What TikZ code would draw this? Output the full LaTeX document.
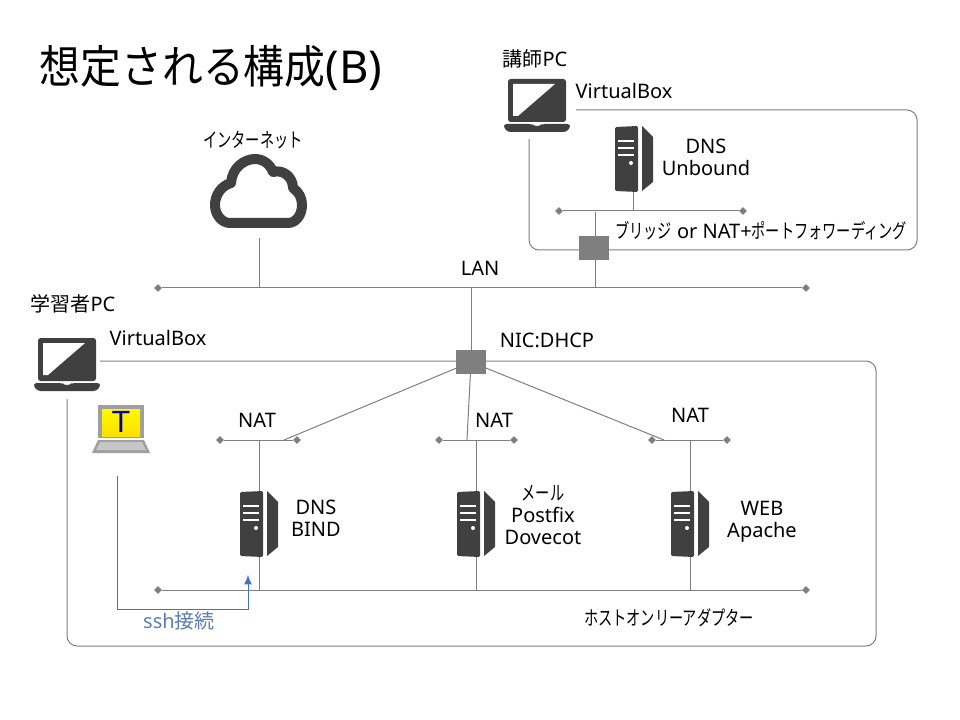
\documentclass[tikz,border=0pt]{standalone}
\usepackage{fontspec}
\setmainfont{Noto Sans}
\newfontfamily\cjk{Noto Sans CJK JP}
\newfontfamily\arialfont{Liberation Sans}
\usetikzlibrary{arrows.meta, shapes.geometric, backgrounds}
\definecolor{netgray}{HTML}{7F7F7F}
\definecolor{icondark}{HTML}{404040}
\definecolor{sshblue}{HTML}{4472C4}
\definecolor{sshtext}{HTML}{5B7DB1}
\newcommand{\jp}[1]{\scalebox{0.71}[1]{\cjk #1}}
\tikzset{
  netline/.style={draw=netgray, line width=0.75pt},
  busend/.style={diamond, fill=netgray, inner sep=0pt, minimum size=6pt},
  switchbox/.style={rectangle, fill=netgray, inner sep=0pt, minimum width=22pt, minimum height=18pt},
  lbl/.style={inner sep=0pt, align=center, font=\fontsize{15}{16.5}\selectfont, text=black},
}
\begin{document}
\begin{tikzpicture}[x=0.75pt, y=-0.75pt]
  \useasboundingbox (0,0) rectangle (960,720);
  % bus ends
  \foreach \name/\x/\y in {lanL/158/288, lanR/806/288, brL/559/211, brR/743/211,
    hostL/158/590, hostR/806/590, natAL/220/440, natAR/297/440,
    natBL/439/440, natBR/514/440, natCL/652/440, natCR/727/440} {
    \node[busend] (\name) at (\x,\y) {};
  }
  \node[switchbox] (swUp) at (594,248) {};
  \node[switchbox] (swLow) at (471,362) {};
  % free ends of the connectors
  \foreach \name/\x/\y in {cloudEnd/259/238, cloudBus/259/288, lowUp/471/288,
    upBr/595/212, upLan/595/288, unbEnd/633/190, unbBus/633/211,
    frmA/576/110, frmB/917/110, frmC/917/250, frmD/529/250, frmE/529/139,
    frmF/100/361, frmG/876/361, frmH/876/646, frmI/67/646, frmJ/67/399,
    natAT/284/440, natBT/467/440, natCT/664/440,
    srvAT/259/440, srvAB/259/590, srvBT/476/440, srvBB/476/590,
    srvCT/690/440, srvCB/690/590,
    sshA/117/476, sshB/117/609, sshC/248/609, sshD/248/575} {
    \coordinate (\name) at (\x,\y);
  }
  \begin{scope}[on background layer]
    \draw[netline] (lanL) -- (lanR);
    \draw[netline] (brL) -- (brR);
    \draw[netline] (hostL) -- (hostR);
    \draw[netline] (natAL) -- (natAR);
    \draw[netline] (natBL) -- (natBR);
    \draw[netline] (natCL) -- (natCR);
    \draw[netline] (cloudEnd) -- (cloudBus);
    \draw[netline] (lowUp) -- (swLow);
    \draw[netline] (upBr) -- (upLan);
    \draw[netline] (unbEnd) -- (unbBus);
    \draw[netline, rounded corners=7.5pt] (frmA) -- (frmB) -- (frmC) -- (frmD) -- (frmE);
    \draw[netline, rounded corners=7.5pt] (frmF) -- (frmG) -- (frmH) -- (frmI) -- (frmJ);
    \draw[netline] (swLow.center) -- (natAT);
    \draw[netline] (swLow.center) -- (natBT);
    \draw[netline] (swLow.center) -- (natCT);
    \draw[netline] (srvAT) -- (srvAB);
    \draw[netline] (srvBT) -- (srvBB);
    \draw[netline] (srvCT) -- (srvCB);
  \end{scope}
  % servers
  \foreach \x/\y in {240/492, 457/492, 671/492, 615/127} {
    \begin{scope}[shift={(\x,\y)}]
      \fill[icondark, rounded corners=1pt] (0,0) -- (23,-1) -- (23,65) -- (0,64) -- cycle;
      \fill[icondark] (27,-1) -- (38,10) -- (38,55) -- (27,64) -- cycle;
      \foreach \s in {14,21,28} {
        \draw[white, line width=1.2pt] (3,\s) -- (19,\s);
      }
      \fill[white] (16,36) circle (1.5pt);
    \end{scope}
  }
  % laptops
  \foreach \x/\y in {0/0, 470/-259} {
    \begin{scope}[shift={(\x,\y)}]
      \fill[icondark, rounded corners=2pt] (38,338) rectangle (96,381);
      \fill[white] (43,343) -- (85,343) -- (48,375) -- (43,375) -- cycle;
      \fill[icondark, rounded corners=2pt] (34,383) -- (62,383) -- (64,385) -- (70,385)
        -- (72,383) -- (100,383) -- (100,387) -- (96,391) -- (38,391) -- (34,387) -- cycle;
    \end{scope}
  }
  % terminal icon
  \fill[gray!75] (98,405) rectangle (144,438);
  \shade[top color=yellow!95!orange, bottom color=yellow!75!orange] (102,409) rectangle (140,436);
  \fill[gray!75] (98,440) -- (144,440) -- (150,453) -- (92,453) -- cycle;
  \fill[gray!45] (100,442) -- (142,442) -- (146,450) -- (96,450) -- cycle;
  \node[inner sep=0pt, text=blue!70!black, font=\arialfont\fontsize{23}{23}\selectfont] (termT) at (121,422) {T};
  % cloud
  \draw[icondark, line width=7.5pt, line join=round]
    (230,223) .. controls (222,223) and (215,215) .. (215,205)
    .. controls (215,195) and (221,186) .. (231,183)
    .. controls (232,168) and (244,159) .. (255,159)
    .. controls (263,159) and (270,164) .. (273,172)
    .. controls (283,169) and (293,177) .. (293,188)
    .. controls (299,192) and (302,198) .. (302,205)
    .. controls (302,215) and (296,223) .. (288,223) -- cycle;
  % ssh
  \draw[-{Latex[length=7pt,width=6pt]}, draw=sshblue, line width=0.75pt]
    (sshA) -- (sshB) -- (sshC) -- (sshD);
  % labels
  \node[inner sep=0pt, font=\fontsize{34}{38}\selectfont] (title) at (211,68) {\scalebox{0.9}[1]{\cjk 想定される構成}(B)};
  \node[lbl] (lecturer) at (535,59) {{\cjk 講師}PC};
  \node[lbl] (vboxUp) at (624,91) {VirtualBox};
  \node[lbl] (dnsUnb) at (706,157) {DNS\\Unbound};
  \node[lbl] (bridge) at (761,231) {\jp{ブリッジ} or NAT+\jp{ポートフォワーディング}};
  \node[lbl] (inet) at (253,140) {\jp{インターネット}};
  \node[lbl] (lan) at (480,268) {LAN};
  \node[lbl] (learner) at (73,304) {{\cjk 学習者}PC};
  \node[lbl] (vboxLow) at (158,338) {VirtualBox};
  \node[lbl] (nic) at (547,340) {NIC:DHCP};
  \node[lbl] (natA) at (257,420) {NAT};
  \node[lbl] (natB) at (494,420) {NAT};
  \node[lbl] (natC) at (690,415) {NAT};
  \node[lbl] (dnsBind) at (316,518) {DNS\\BIND};
  \node[lbl] (mail) at (543,515) {\jp{メール}\\Postfix\\Dovecot};
  \node[lbl] (web) at (762,522) {WEB\\Apache};
  \node[lbl] (hostOnly) at (669,618) {\jp{ホストオンリーアダプター}};
  \node[lbl, text=sshtext] (sshLbl) at (179,621) {ssh{\cjk 接続}};
\end{tikzpicture}
\end{document}
